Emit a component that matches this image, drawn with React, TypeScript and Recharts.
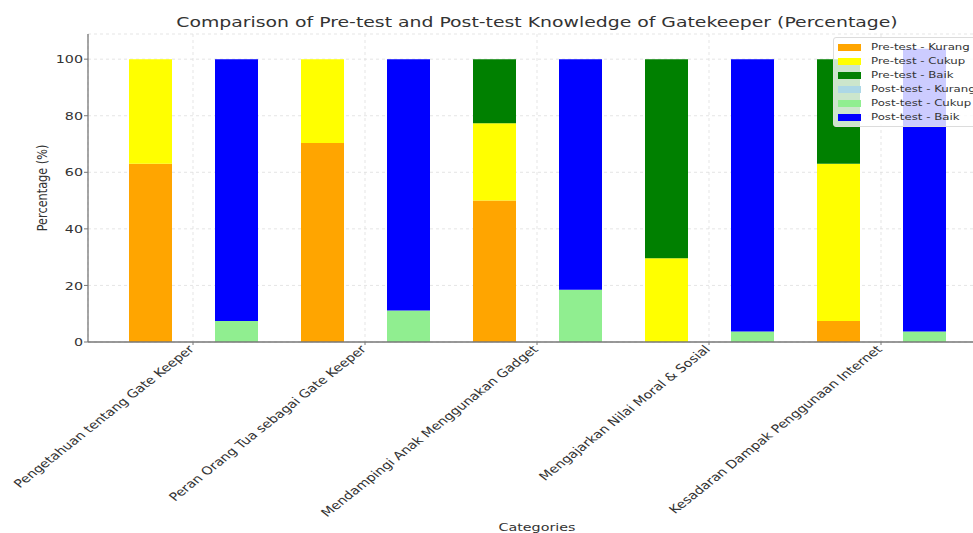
import React from 'react';
import { BarChart, Bar, XAxis, YAxis, CartesianGrid, Legend } from 'recharts';

const categories = [
  'Pengetahuan tentang Gate Keeper',
  'Peran Orang Tua sebagai Gate Keeper',
  'Mendampingi Anak Menggunakan Gadget',
  'Mengajarkan Nilai Moral & Sosial',
  'Kesadaran Dampak Penggunaan Internet',
];
const preKurang = [63.0, 70.4, 50.0, 0, 7.4];
const preCukup = [37.0, 29.6, 27.3, 29.6, 55.6];
const preBaik = [0, 0, 22.7, 70.4, 37.0];
const postKurang = [0, 0, 0, 0, 0];
const postCukup = [7.4, 11.1, 18.5, 3.7, 3.7];
const postBaik = [92.6, 88.9, 81.5, 96.3, 100];
const yTicks = [0, 20, 40, 60, 80, 100];

const title = 'Comparison of Pre-test and Post-test Knowledge of Gatekeeper (Percentage)';
const xLabel = 'Categories';
const yLabel = 'Percentage (%)';

const series = [
  { key: 'preKurang', name: 'Pre-test - Kurang', color: '#FFA500', stack: 'pre' },
  { key: 'preCukup', name: 'Pre-test - Cukup', color: '#FFFF00', stack: 'pre' },
  { key: 'preBaik', name: 'Pre-test - Baik', color: '#008000', stack: 'pre' },
  { key: 'postKurang', name: 'Post-test - Kurang', color: '#ADD8E6', stack: 'post' },
  { key: 'postCukup', name: 'Post-test - Cukup', color: '#90EE90', stack: 'post' },
  { key: 'postBaik', name: 'Post-test - Baik', color: '#0000FF', stack: 'post' },
];

const data = categories.map((name, i) => ({
  name,
  preKurang: preKurang[i],
  preCukup: preCukup[i],
  preBaik: preBaik[i],
  postKurang: postKurang[i],
  postCukup: postCukup[i],
  postBaik: postBaik[i],
}));

const SX = 1.265;
const FONT = '"DejaVu Sans", sans-serif';
const TEXT = '#333';

const XTick = (props: any) => {
  const { x, y, payload } = props;
  return (
    <g transform={`translate(${x + 2},${y + 5})`}>
      <text transform={`scale(${SX},1) rotate(-45)`} textAnchor="end" fontSize={11.3} fill={TEXT} fontFamily={FONT}>
        {payload.value}
      </text>
    </g>
  );
};

const YTick = (props: any) => {
  const { x, y, payload } = props;
  return (
    <g transform={`translate(${x},${y})`}>
      <text transform={`scale(${SX},1)`} textAnchor="end" dy="0.36em" fontSize={11.3} fill={TEXT} fontFamily={FONT}>
        {payload.value}
      </text>
    </g>
  );
};

const LegendBox = () => (
  <div
    style={{
      background: 'rgba(255,255,255,0.8)',
      border: '1px solid #dcdcdc',
      borderRadius: 3,
      padding: '2px 0 2px 4px',
      boxSizing: 'border-box',
      width: 160,
      fontFamily: FONT,
    }}
  >
    {series.map((s) => (
      <div key={s.key} style={{ display: 'flex', alignItems: 'center', height: 14.05 }}>
        <div style={{ width: 23, height: 7, background: s.color, marginRight: 10 }} />
        <div
          style={{
            fontSize: 9.3,
            color: TEXT,
            transform: `scaleX(${SX})`,
            transformOrigin: 'left center',
            whiteSpace: 'nowrap',
            lineHeight: '14px',
          }}
        >
          {s.name}
        </div>
      </div>
    ))}
  </div>
);

export default function App() {
  return (
    <div style={{ position: 'absolute', left: 0, top: 0, width: 973, height: 533, overflow: 'hidden', background: '#fff' }}>
      <BarChart
        width={1000}
        height={533}
        data={data}
        margin={{ top: 34, right: 14, bottom: 0, left: 0 }}
        barSize={43}
        barGap={43}
      >
        <CartesianGrid stroke="#dedede" strokeDasharray="3 3" strokeWidth={0.8} />
        <XAxis
          dataKey="name"
          height={191}
          padding={{ left: 19, right: 19 }}
          tick={<XTick />}
          tickSize={3}
          tickMargin={0}
          interval={0}
          axisLine={{ stroke: '#777', strokeWidth: 1.3 }}
          tickLine={{ stroke: '#777' }}
        />
        <YAxis
          type="number"
          width={88}
          domain={[0, 108.9]}
          ticks={yTicks}
          allowDataOverflow
          tick={<YTick />}
          tickSize={4}
          tickMargin={1}
          axisLine={{ stroke: '#777', strokeWidth: 1.3 }}
          tickLine={{ stroke: '#777' }}
        />
        {series.map((s) => (
          <Bar key={s.key} dataKey={s.key} name={s.name} stackId={s.stack} fill={s.color} isAnimationActive={false} />
        ))}
        <Legend
          layout="vertical"
          align="center"
          verticalAlign="middle"
          wrapperStyle={{ top: 37, left: 833, width: 160 }}
          content={<LegendBox />}
        />
        <text transform={`translate(537,27) scale(${SX},1)`} textAnchor="middle" fontSize={14.9} fill={TEXT} fontFamily={FONT}>
          {title}
        </text>
        <text transform={`translate(47,188) scale(${SX},1) rotate(-90)`} textAnchor="middle" fontSize={11.3} fill={TEXT} fontFamily={FONT}>
          {yLabel}
        </text>
        <text transform={`translate(537,531) scale(${SX},1)`} textAnchor="middle" fontSize={11.3} fill={TEXT} fontFamily={FONT}>
          {xLabel}
        </text>
      </BarChart>
    </div>
  );
}
